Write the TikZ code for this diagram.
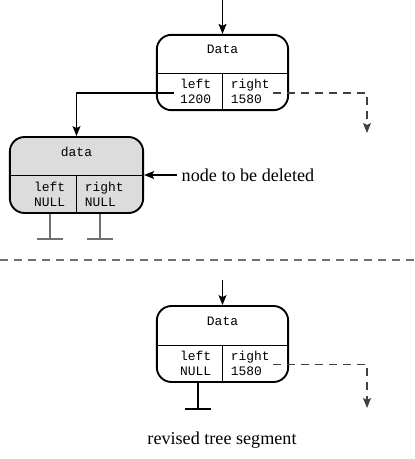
\documentclass[tikz,border=0pt]{standalone}
\usepackage{fontspec}
\setmainfont{Liberation Serif}
\setmonofont{Liberation Mono}
\definecolor{recgray}{HTML}{DCDCDC}
\definecolor{wiregray}{HTML}{707070}
\usetikzlibrary{arrows.meta,positioning,calc}

\begin{document}
\begin{tikzpicture}[x=0.75pt,y=-0.75pt,
  rec/.style={draw=black, rounded corners=11pt, line width=1.4pt,
              minimum width=98.5pt, minimum height=56.5pt, inner sep=0pt},
  field/.style={font=\fontsize{9.7}{11.2}\selectfont\ttfamily, inner sep=0pt},
  link/.style={draw=black, line width=0.8pt,
               -{Stealth[length=7.5pt,width=6pt,inset=1.5pt]}},
  nil/.style={draw=black!75, line width=0.8pt, dash pattern=on 6pt off 4.5pt,
              -{Stealth[length=7.5pt,width=6pt,inset=1.5pt]}},
  sep/.style={draw=wiregray, line width=0.8pt, dash pattern=on 6pt off 4.5pt},
  caption/.style={font=\fontsize{13.6}{16}\selectfont}
]
\useasboundingbox (0,0) rectangle (414,459);

%% records
\node[rec] (top) at (222.5,72.5) {};
\node[rec, fill=recgray, minimum width=100pt, minimum height=57pt] (del) at (76.5,175) {};
\node[rec, minimum height=57pt] (rev) at (222.5,344) {};

\foreach \n/\k/\l/\r in {top/Data/left\\1200/right\\1580,
                         del/data/left\\NULL/right\\NULL,
                         rev/Data/left\\NULL/right\\1580}{
  \draw[line width=0.75pt] ($(\n.west)+(0,1)$) -- ($(\n.east)+(0,1)$);
  \draw[line width=0.75pt] ($(\n.center)+(0,1)$) -- (\n.south);
  \node[field] (\n-k) at ($(\n.center)+(0,-23)$) {\k};
  \node[field, anchor=east, align=right] (\n-l) at ($(\n.center)+(-11,19)$) {\l};
  \node[field, anchor=west, align=left] (\n-r) at ($(\n.center)+(8,19)$) {\r};
}

%% incoming links
\coordinate (in1) at (222.5,0);
\coordinate (in2) at (222.5,280);
\draw[link] (in1) -- (top.north);
\draw[link] (in2) -- (rev.north);
\draw[link] ($(top-l.west)+(-6,1.5)$) -| (del.north);

%% right subtrees
\coordinate (r1) at (367,133);
\coordinate (r2) at (367,408);
\draw[nil] ($(top-r.east)+(3,1.5)$) -| (r1);
\draw[nil] ($(rev-r.east)+(3,1.5)$) -| (r2);

%% null ends
\coordinate (g1) at (50,239);
\coordinate (g2) at (100,239);
\coordinate (g3) at (198,409);
\foreach \g/\b/\c in {g1/del/wiregray, g2/del/wiregray, g3/rev/black}
  \draw[draw=\c, line width=0.9pt] (\g |- \b.south) -- (\g) ++(-13,0) -- ++(26,0);

%% labels
\node[caption, anchor=west] (lbl) at (177,175) {node to be deleted};
\draw[link] (lbl.west) -- (del.east |- lbl.west);

\coordinate (s1) at (0,260);
\coordinate (s2) at (414,260);
\draw[sep] (s1) -- (s2);

\node[caption] (cap) at (222,440) {revised tree segment};

\end{tikzpicture}
\end{document}
